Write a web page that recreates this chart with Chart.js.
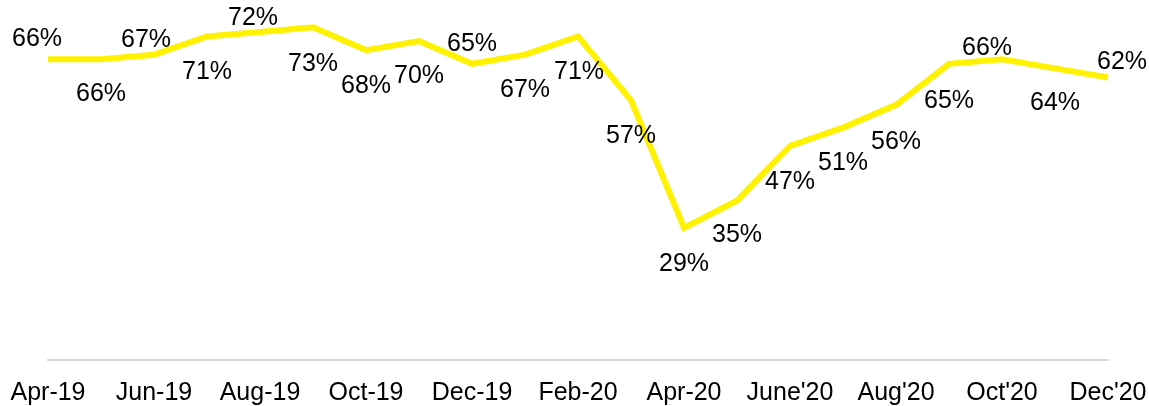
<!DOCTYPE html>
<html>
<head>
<meta charset="utf-8">
<script src="https://cdn.jsdelivr.net/npm/chart.js@4/dist/chart.umd.min.js"></script>
<style>
  html, body { margin: 0; padding: 0; background: #fff; }
  #wrap { width: 1149px; height: 406px; position: relative; }
</style>
</head>
<body>
<div id="wrap"><canvas id="myChart"></canvas></div>
<script>
// Monthly share, Apr-19 .. Dec-20
const months = ['Apr-19', 'May-19', 'Jun-19', 'Jul-19', 'Aug-19', 'Sep-19', 'Oct-19',
  'Nov-19', 'Dec-19', 'Jan-20', 'Feb-20', 'Mar-20', 'Apr-20', "May'20", "June'20",
  "July'20", "Aug'20", "Sep'20", "Oct'20", "Nov'20", "Dec'20"];

const values = [66, 66, 67, 71, 72, 73, 68, 70, 65, 67, 71, 57, 29, 35, 47, 51, 56, 65, 66, 64, 62];

// where each value label sits relative to its point (dx, dy)
const labelOffsets = [
  [-11, -20], [0, 35], [-8, -15], [0, 36], [-7, -14], [0, 37], [0, 36],
  [0, 35], [0, -20], [0, 35], [1, 36], [0, 36], [0, 36], [0, 35],
  [0, 36], [0, 36], [0, 37], [0, 37], [-15, -11], [0, 35], [14, -15]
];

const FONT = "'Liberation Sans', Arial, sans-serif";

// draw the "66%" labels next to each point
const valueLabels = {
  id: 'valueLabels',
  afterDatasetsDraw(chart) {
    const ctx = chart.ctx;
    const meta = chart.getDatasetMeta(0);
    ctx.save();
    ctx.font = '25px ' + FONT;
    ctx.fillStyle = '#000';
    ctx.textAlign = 'center';
    ctx.textBaseline = 'middle';
    meta.data.forEach((pt, i) => {
      const off = labelOffsets[i];
      ctx.fillText(values[i] + '%', pt.x + off[0], pt.y + off[1]);
    });
    ctx.restore();
  }
};

new Chart(document.getElementById('myChart'), {
  type: 'line',
  data: {
    labels: months,
    datasets: [{
      data: values,
      borderColor: '#FFF200',
      borderWidth: 6,
      pointRadius: 0,
      tension: 0,
      fill: false
    }]
  },
  options: {
    responsive: true,
    maintainAspectRatio: false,
    animation: false,
    layout: { padding: { left: 48, right: 41, top: 0, bottom: -2 } },
    plugins: {
      legend: { display: false },
      tooltip: { enabled: false }
    },
    scales: {
      x: {
        // invisible tick marks only used to push the labels down
        grid: { display: true, drawOnChartArea: false, drawTicks: true, tickLength: 18, color: 'rgba(0,0,0,0)' },
        border: { display: true, color: '#d9d9d9', width: 2 },
        ticks: {
          autoSkip: false,
          maxRotation: 0,
          padding: 0,
          color: '#000',
          font: { family: FONT, size: 25 },
          callback: function (val, idx) {
            return idx % 2 === 0 ? months[idx] : '';
          }
        }
      },
      y: {
        display: false,
        min: 0,
        max: 79
      }
    }
  },
  plugins: [valueLabels]
});
</script>
</body>
</html>
